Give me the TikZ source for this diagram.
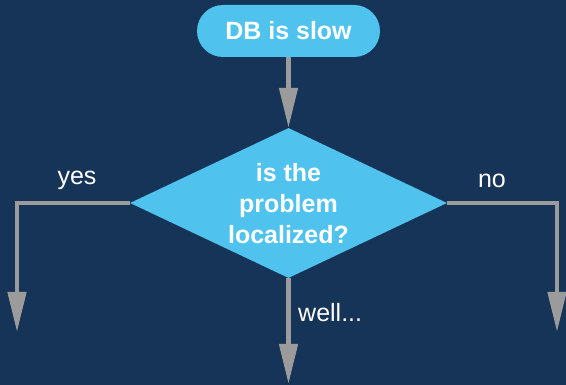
\documentclass[tikz,border=0pt]{standalone}
\usepackage{fontspec}
\setmainfont{Liberation Sans}
\usetikzlibrary{arrows.meta,shapes.geometric}
\definecolor{bg}{HTML}{163457}
\definecolor{boxfill}{HTML}{4FC3EE}
\definecolor{ln}{HTML}{9B9B9B}
\tikzset{
  conn/.style={draw=ln, line width=4.5pt, -{Triangle[length=40pt,width=18pt]}},
  startbox/.style={rectangle, rounded corners=26pt, fill=boxfill, minimum width=183pt, minimum height=52pt, inner sep=0pt, text=white, font=\bfseries\fontsize{25}{30}\selectfont},
  decbox/.style={diamond, fill=boxfill, minimum width=317pt, minimum height=150pt, inner sep=0pt},
  dectext/.style={text=white, align=center, font=\bfseries\fontsize{25}{31}\selectfont},
  lbl/.style={text=white, font=\fontsize{25}{30}\selectfont, inner sep=0pt}
}
\begin{document}
\begin{tikzpicture}[x=1pt,y=-1pt]
\fill[bg] (0,0) rectangle (566,385);
\useasboundingbox (0,0) rectangle (566,385);
\node[startbox] (start) at (288.5,31) {DB is slow};
\node[decbox] (q) at (288.5,203) {};
\node[dectext] (qt) at (288.5,204) {is the\\problem\\localized?};
\coordinate (yesend) at (17,332);
\coordinate (noend) at (557,332);
\coordinate (wellend) at (288.5,384);
\draw[conn] (start.south) -- (q.north);
\draw[conn] (q.west) -| (yesend);
\draw[conn] (q.east) -| (noend);
\draw[conn] (q.south) -- (wellend);
\node[lbl, anchor=base] (yes) at (77,185) {yes};
\node[lbl, anchor=base] (no) at (492,188) {no};
\node[lbl, anchor=base west] (well) at (298,322) {well...};
\end{tikzpicture}
\end{document}
